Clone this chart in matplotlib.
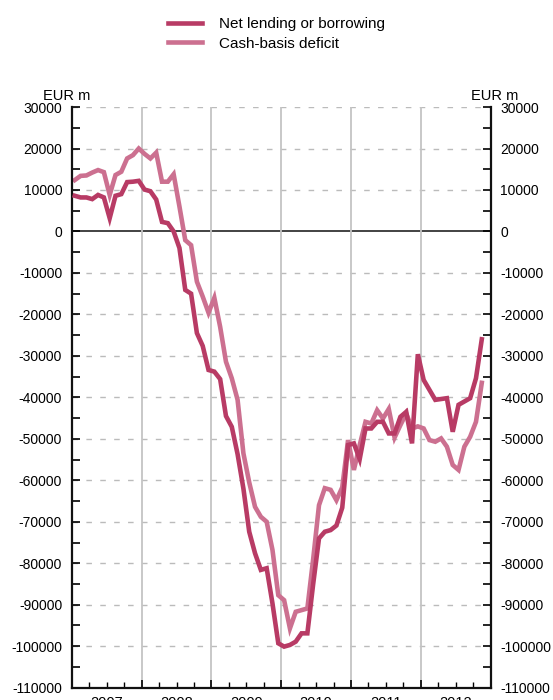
import matplotlib
matplotlib.use('Agg')
import matplotlib.pyplot as plt
import matplotlib.ticker as ticker
import numpy as np

plt.rcParams['font.family'] = ['Liberation Sans', 'DejaVu Sans']
plt.rcParams['axes.unicode_minus'] = False

# monthly values, EUR m (thousands), Jan 2007 - Nov 2012
net_lending = [8.6, 8.2, 8.2, 7.8, 8.8, 8.2, 3.2, 8.6, 9.0, 11.9,
               12.0, 12.2, 10.1, 9.7, 7.7, 2.3, 2.0, 0.0, -4.0, -14.1,
               -15.0, -24.5, -27.6, -33.4, -33.8, -35.6, -44.5, -47.1, -53.7, -62.0,
               -72.4, -77.6, -81.6, -81.2, -89.7, -99.3, -100.1, -99.7, -98.9, -96.9,
               -96.9, -85.0, -74.0, -72.4, -72.0, -70.9, -66.6, -51.5, -51.1, -54.9,
               -47.5, -47.5, -45.9, -45.9, -48.7, -48.7, -44.7, -43.5, -51.1, -29.6,
               -35.8, -38.2, -40.6, -40.4, -40.2, -48.3, -41.8, -41.0, -40.2, -35.4,
               -26.0]
cash_deficit = [12.4, 13.4, 13.5, 14.2, 14.8, 14.3, 8.8, 13.6, 14.4, 17.6,
                18.4, 20.0, 18.7, 17.6, 19.0, 12.0, 12.0, 13.8, 6.0, -2.1,
                -3.3, -12.1, -15.7, -19.6, -16.0, -23.0, -31.4, -35.4, -40.6, -53.5,
                -60.5, -66.4, -68.8, -70.0, -76.8, -87.7, -88.9, -95.7, -91.7, -91.3,
                -90.9, -79.0, -66.0, -61.9, -62.3, -64.8, -61.7, -50.3, -57.5, -51.5,
                -45.9, -46.3, -43.1, -45.1, -42.8, -49.7, -46.7, -43.9, -47.5, -47.0,
                -47.5, -50.3, -50.7, -49.9, -51.9, -56.3, -57.5, -51.9, -49.5, -45.9,
                -36.5]
years = [2007, 2008, 2009, 2010, 2011, 2012]

net = np.array(net_lending) * 1000
cash = np.array(cash_deficit) * 1000
t = 2007 + (np.arange(len(net)) + 0.5) / 12.0

dark = '#b83b65'
light = '#cc7090'

fig = plt.figure(figsize=(5.53, 7.0), dpi=100)
ax = fig.add_axes([0.130, 0.0176, 0.757, 0.8295])

# grid first so the series sit on top
for v in range(-110000, 30001, 10000):
    if v == 0:
        ax.axhline(0, color='#222222', lw=1.2, zorder=1)
    else:
        ax.axhline(v, color='#bbbbbb', lw=1.0, dashes=(4, 6), zorder=1)
for y in years[1:]:
    ax.axvline(y, color='#c4c4c4', lw=1.3, zorder=1)

ax.plot(t, net, color=dark, lw=3.3, solid_joinstyle='miter', zorder=3,
        label='Net lending or borrowing')
ax.plot(t, cash, color=light, lw=3.3, solid_joinstyle='miter', zorder=2,
        label='Cash-basis deficit')

ax.set_xlim(2007, 2013)
ax.set_ylim(-110000, 30000)

ax.spines['top'].set_visible(False)
for s in ['left', 'right', 'bottom']:
    ax.spines[s].set_linewidth(1.6)
    ax.spines[s].set_color('#111111')

ax.yaxis.set_major_locator(ticker.MultipleLocator(10000))
ax.yaxis.set_minor_locator(ticker.MultipleLocator(5000))
ax.tick_params(axis='y', which='both', direction='in', left=True, right=True,
               labelleft=True, labelright=True, length=6, width=1.2,
               labelsize=10, pad=7)

ax.xaxis.set_major_locator(ticker.FixedLocator(years + [2013]))
ax.xaxis.set_major_formatter(ticker.NullFormatter())
ax.xaxis.set_minor_locator(ticker.FixedLocator(
    [y + q / 4.0 for y in years for q in (1, 2, 3)]))


def year_label(x, pos):
    if abs(x - int(x) - 0.5) < 1e-6:
        return str(int(x))
    return ''


ax.xaxis.set_minor_formatter(ticker.FuncFormatter(year_label))
ax.tick_params(axis='x', which='major', direction='in', length=6, width=1.2)
ax.tick_params(axis='x', which='minor', direction='in', length=4, width=1.0,
               labelsize=10.5, pad=6)

fig.text(0.078, 0.853, 'EUR m', fontsize=10.5, ha='left', va='bottom')
fig.text(0.937, 0.853, 'EUR m', fontsize=10.5, ha='right', va='bottom')

fig.legend(loc='upper center', bbox_to_anchor=(0.5, 0.995), frameon=False,
           fontsize=11, handlelength=2.2, handletextpad=1.1, labelspacing=0.35)

fig.savefig('out.png', dpi=100)
